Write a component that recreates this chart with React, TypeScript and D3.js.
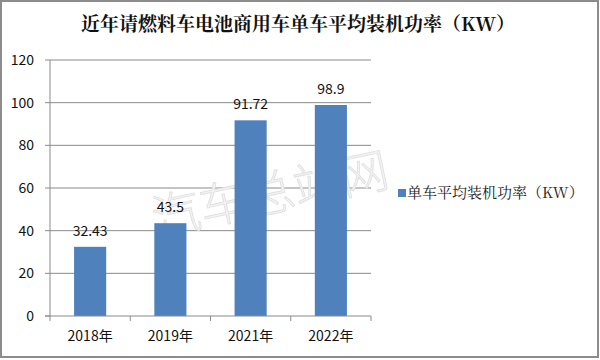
import * as d3 from 'd3';
import { useEffect, useRef } from 'react';

const years = ['2018年', '2019年', '2021年', '2022年'];
const power = [32.43, 43.5, 91.72, 98.9];
const powerLabels = ['32.43', '43.5', '91.72', '98.9'];
const yTicks = [0, 20, 40, 60, 80, 100, 120];
const seriesName = '单车平均装机功率（KW）';
const title = '近年请燃料车电池商用车单车平均装机功率（KW）';

const App = () => {
  const ref = useRef<SVGSVGElement | null>(null);

  useEffect(() => {
    if (!ref.current) return;
    const svg = d3.select(ref.current);
    svg.selectAll('*').remove();

    const width = 600;
    const height = 360;
    const font = "'Noto Sans CJK SC', 'Noto Sans', sans-serif";
    const plot = { left: 50, right: 371, top: 60, bottom: 316 };

    svg.attr('width', width).attr('height', height);

    // background + frame
    svg.append('rect').attr('x', 0).attr('y', 0).attr('width', width).attr('height', height).attr('fill', '#fff');
    svg
      .append('rect')
      .attr('x', 1)
      .attr('y', 1)
      .attr('width', width - 3)
      .attr('height', height - 4)
      .attr('fill', 'none')
      .attr('stroke', '#8c8c8c')
      .attr('stroke-width', 2);

    svg
      .append('text')
      .attr('x', 298)
      .attr('y', 31)
      .attr('text-anchor', 'middle')
      .attr('font-family', "'Noto Serif CJK SC', 'Noto Sans CJK SC', serif")
      .attr('font-weight', 'bold')
      .attr('font-size', 19)
      .attr('fill', '#111')
      .text(title);

    const x = d3
      .scaleBand()
      .domain(years)
      .range([plot.left, plot.right])
      .paddingInner(0.6)
      .paddingOuter(0.3);

    const y = d3.scaleLinear().domain([0, 120]).range([plot.bottom, plot.top]);

    // gridlines
    svg
      .selectAll('.grid')
      .data(yTicks.filter(t => t > 0))
      .enter()
      .append('line')
      .attr('x1', plot.left)
      .attr('x2', plot.right)
      .attr('y1', d => y(d))
      .attr('y2', d => y(d))
      .attr('stroke', '#8a8a8a')
      .attr('stroke-width', 1);

    // watermark
    svg
      .append('text')
      .attr('transform', 'translate(271,198) rotate(-12)')
      .attr('text-anchor', 'middle')
      .attr('dominant-baseline', 'middle')
      .attr('font-family', font)
      .attr('font-weight', 300)
      .attr('font-size', 48)
      .attr('fill', '#f3f3f3')
      .attr('stroke', '#dedede')
      .attr('stroke-width', 0.8)
      .text('汽车总站网');

    // bars
    svg
      .selectAll('.bar')
      .data(power)
      .enter()
      .append('rect')
      .attr('x', (_, i) => x(years[i]) || 0)
      .attr('y', d => y(d))
      .attr('width', x.bandwidth())
      .attr('height', d => plot.bottom - y(d))
      .attr('fill', '#4f81bd');

    // value labels
    svg
      .selectAll('.val')
      .data(power)
      .enter()
      .append('text')
      .attr('x', (_, i) => (x(years[i]) || 0) + x.bandwidth() / 2)
      .attr('y', d => y(d) - 11)
      .attr('text-anchor', 'middle')
      .attr('font-family', font)
      .attr('font-size', 14)
      .attr('fill', '#111')
      .text((_, i) => powerLabels[i]);

    // y axis
    const yAxis = svg.append('g').attr('transform', `translate(${plot.left},0)`);
    yAxis.append('line').attr('x1', 0).attr('x2', 0).attr('y1', plot.top).attr('y2', plot.bottom).attr('stroke', '#8a8a8a');
    yAxis
      .selectAll('.yt')
      .data(yTicks)
      .enter()
      .append('line')
      .attr('x1', -5)
      .attr('x2', 0)
      .attr('y1', d => y(d))
      .attr('y2', d => y(d))
      .attr('stroke', '#8a8a8a');
    yAxis
      .selectAll('.yl')
      .data(yTicks)
      .enter()
      .append('text')
      .attr('x', -16)
      .attr('y', d => y(d))
      .attr('dy', '0.36em')
      .attr('text-anchor', 'end')
      .attr('font-family', font)
      .attr('font-size', 14)
      .attr('fill', '#111')
      .text(d => String(d));

    // x axis
    const xAxis = svg.append('g');
    xAxis
      .append('line')
      .attr('x1', plot.left - 5)
      .attr('x2', plot.right)
      .attr('y1', plot.bottom)
      .attr('y2', plot.bottom)
      .attr('stroke', '#8a8a8a');
    const step = x.step();
    const xTickPos = years.map((_, i) => plot.left + i * step).concat([plot.right]);
    xAxis
      .selectAll('.xt')
      .data(xTickPos)
      .enter()
      .append('line')
      .attr('x1', d => d)
      .attr('x2', d => d)
      .attr('y1', plot.bottom)
      .attr('y2', plot.bottom + 5)
      .attr('stroke', '#8a8a8a');
    xAxis
      .selectAll('.xl')
      .data(years)
      .enter()
      .append('text')
      .attr('x', d => (x(d) || 0) + x.bandwidth() / 2)
      .attr('y', 341)
      .attr('text-anchor', 'middle')
      .attr('font-family', font)
      .attr('font-size', 14)
      .attr('fill', '#111')
      .text(d => d);

    // legend
    const legend = svg.append('g').attr('transform', 'translate(398,193)');
    legend.append('rect').attr('x', 0).attr('y', -4).attr('width', 8).attr('height', 8).attr('fill', '#4f81bd');
    legend
      .append('text')
      .attr('x', 9)
      .attr('y', 0)
      .attr('dy', '0.36em')
      .attr('font-family', "'Noto Serif CJK SC', 'Noto Sans CJK SC', serif")
      .attr('font-size', 15)
      .attr('fill', '#222')
      .text(seriesName);
  }, []);

  return <svg ref={ref} style={{ position: 'absolute', left: 0, top: 0, display: 'block' }} />;
};

export default App;
